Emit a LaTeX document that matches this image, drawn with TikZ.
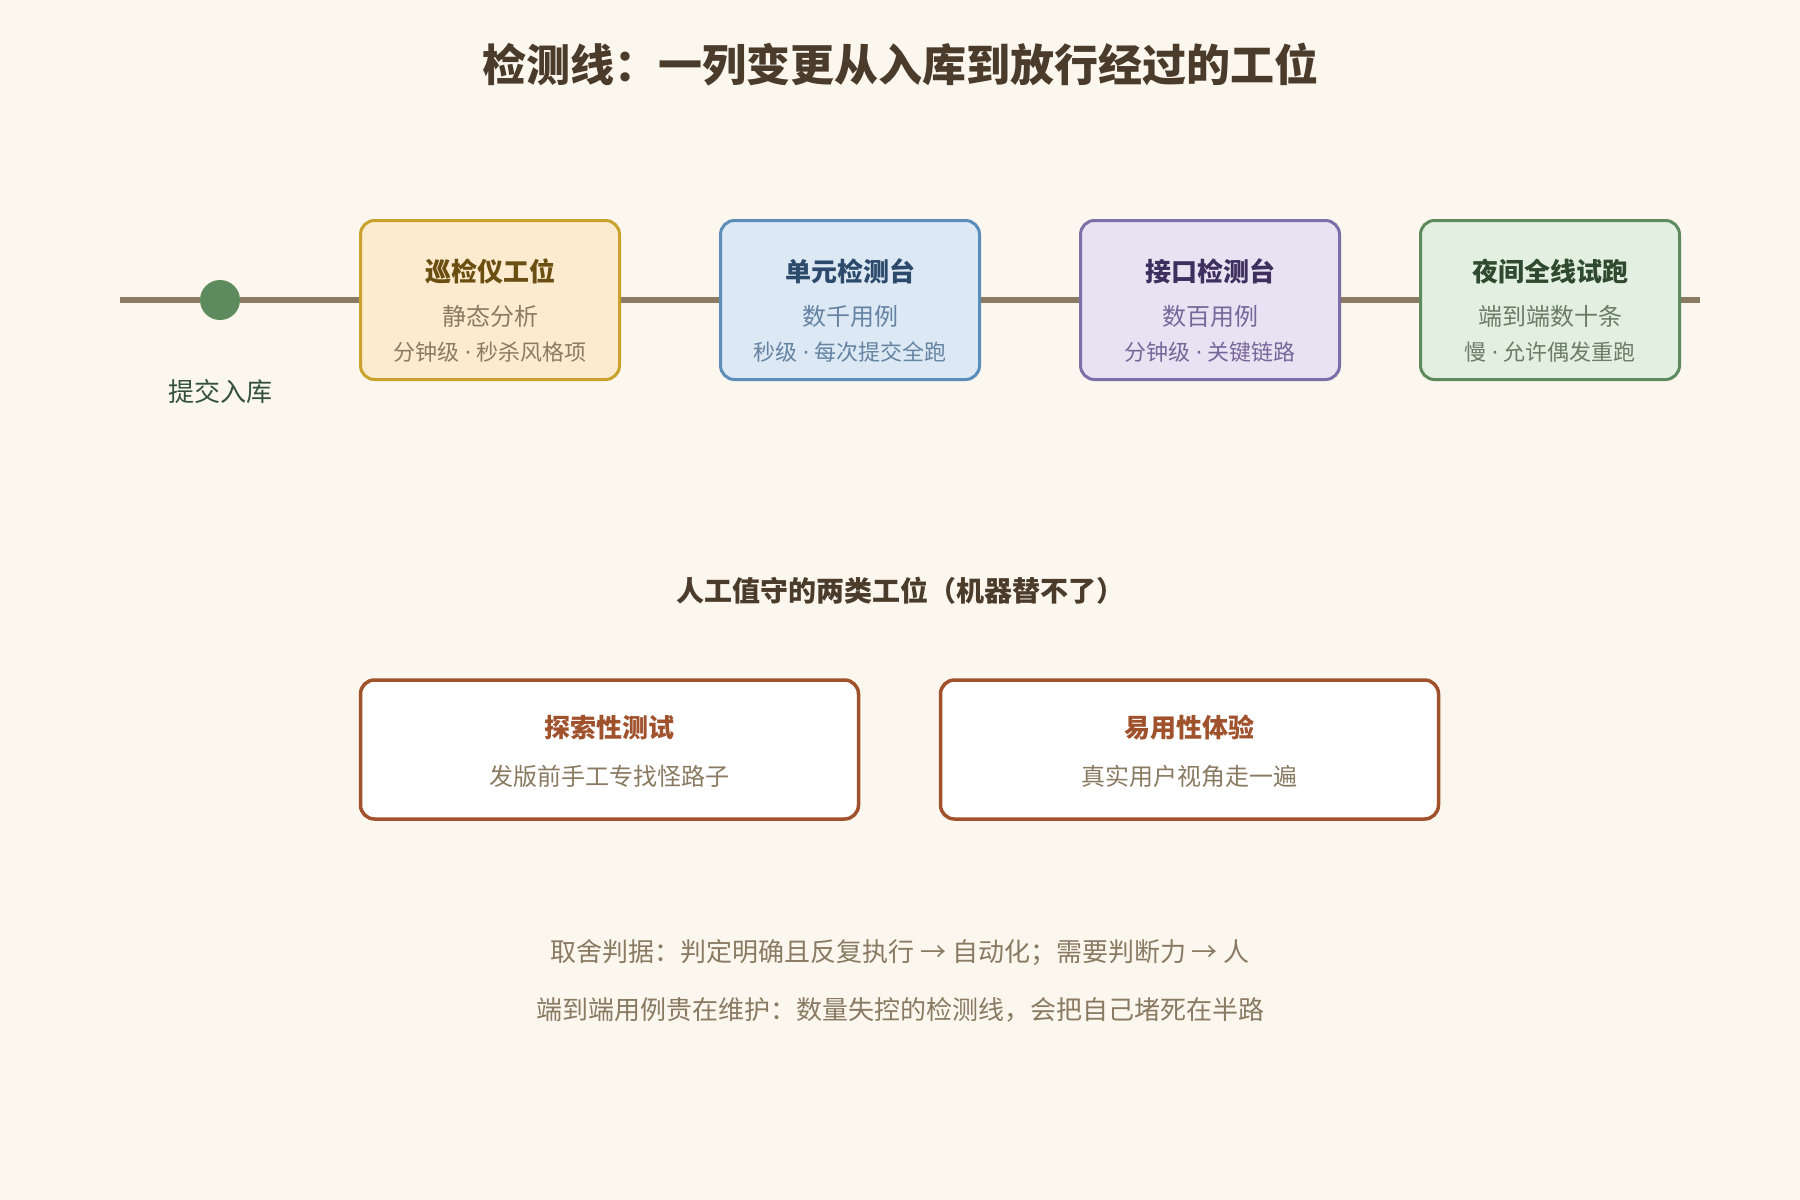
\documentclass[tikz,border=0pt]{standalone}
\usepackage{fontspec}
\setmainfont{Noto Sans CJK SC}
\newfontfamily\latinf{Noto Sans}
\newcommand{\mydot}{{\latinf\ ·\ }}
\definecolor{bgcol}{HTML}{FBF6EE}
\definecolor{trackcol}{HTML}{8B7A62}
\definecolor{dotcol}{HTML}{5E8B5E}
\definecolor{labelcol}{HTML}{33503A}
\definecolor{headcol}{HTML}{4A3B2B}
\definecolor{footcol}{HTML}{8A7A62}
\definecolor{goldD}{HTML}{C9A22B}
\definecolor{goldF}{HTML}{FDEBD0}
\definecolor{goldT}{HTML}{6B4F12}
\definecolor{goldS}{HTML}{8C7B62}
\definecolor{blueD}{HTML}{5B8DB8}
\definecolor{blueF}{HTML}{DCE9F4}
\definecolor{blueT}{HTML}{2C4A6B}
\definecolor{blueS}{HTML}{6483A3}
\definecolor{purpD}{HTML}{7D6FA8}
\definecolor{purpF}{HTML}{E8E3F3}
\definecolor{purpT}{HTML}{3D2F5E}
\definecolor{purpS}{HTML}{76679A}
\definecolor{grnD}{HTML}{5E8B5E}
\definecolor{grnF}{HTML}{E3EFE1}
\definecolor{grnT}{HTML}{2F4A2F}
\definecolor{grnS}{HTML}{6B7D66}
\definecolor{sienna}{HTML}{A0522D}
\pgfdeclarelayer{bglayer}
\pgfdeclarelayer{tracklayer}
\pgfsetlayers{bglayer,tracklayer,main}
\begin{document}
\begin{tikzpicture}[x=1pt,y=-1pt,
  stagebox/.style={draw, line width=3pt, rounded corners=14pt,
    minimum width=259pt, minimum height=159pt, inner sep=0pt},
  manualbox/.style={draw=sienna, fill=white, line width=3.5pt, rounded corners=14pt,
    minimum width=498pt, minimum height=139pt, inner sep=0pt},
  txt/.style={inner sep=0pt, anchor=center},
  stitle/.style={txt, font=\fontsize{26}{30}\selectfont\bfseries},
  ssub/.style={txt, font=\fontsize{24}{28}\selectfont},
  ssmall/.style={txt, font=\fontsize{22}{26}\selectfont},
  foot/.style={txt, text=footcol, font=\fontsize{26}{30}\selectfont},
  track/.style={draw=trackcol, line width=6pt}
]
\useasboundingbox (0,0) rectangle (1800,1200);
\begin{pgfonlayer}{bglayer}
\fill[bgcol] (0,0) rectangle (1800,1200);
\end{pgfonlayer}

% title
\node[txt, text=headcol, font=\fontsize{44}{50}\selectfont\bfseries] (title) at (900,65)
  {检测线：一列变更从入库到放行经过的工位};

% track
\coordinate (start) at (120,300);
\coordinate (finish) at (1700,300);
\node[circle, fill=dotcol, minimum size=40pt, inner sep=0pt] (dot) at (220,300) {};
\node[txt, text=labelcol, font=\fontsize{26}{30}\selectfont] (dotlabel) at (220,392) {提交入库};

\node[stagebox, draw=goldD, fill=goldF] (b1) at (490,300) {};
\node[stagebox, draw=blueD, fill=blueF] (b2) at (850,300) {};
\node[stagebox, draw=purpD, fill=purpF] (b3) at (1210,300) {};
\node[stagebox, draw=grnD, fill=grnF] (b4) at (1550,300) {};

\begin{pgfonlayer}{tracklayer}
\draw[track] (start) -- (dot) -- (b1) -- (b2) -- (b3) -- (b4) -- (finish);
\end{pgfonlayer}

\node[stitle, text=goldT] (b1t) at (490,271) {巡检仪工位};
\node[ssub, text=goldS] (b1s) at (490,316) {静态分析};
\node[ssmall, text=goldS] (b1m) at (490,352.5) {分钟级\mydot 秒杀风格项};

\node[stitle, text=blueT] (b2t) at (850,271) {单元检测台};
\node[ssub, text=blueS] (b2s) at (850,316) {数千用例};
\node[ssmall, text=blueS] (b2m) at (850,352.5) {秒级\mydot 每次提交全跑};

\node[stitle, text=purpT] (b3t) at (1210,271) {接口检测台};
\node[ssub, text=purpS] (b3s) at (1210,316) {数百用例};
\node[ssmall, text=purpS] (b3m) at (1210,352.5) {分钟级\mydot 关键链路};

\node[stitle, text=grnT] (b4t) at (1550,271) {夜间全线试跑};
\node[ssub, text=grnS] (b4s) at (1550,316) {端到端数十条};
\node[ssmall, text=grnS] (b4m) at (1550,352.5) {慢\mydot 允许偶发重跑};

% manual stations
\node[txt, text=headcol, font=\fontsize{28}{32}\selectfont\bfseries] (mhead) at (900,591)
  {人工值守的两类工位（机器替不了）};

\node[manualbox] (m1) at (609.5,749.5) {};
\node[manualbox] (m2) at (1189.5,749.5) {};
\node[stitle, text=sienna] (m1t) at (609.5,727.5) {探索性测试};
\node[ssub, text=footcol] (m1s) at (609.5,776) {发版前手工专找怪路子};
\node[stitle, text=sienna] (m2t) at (1189.5,727.5) {易用性体验};
\node[ssub, text=footcol] (m2s) at (1189.5,776) {真实用户视角走一遍};

% footer
\node[foot] (f1) at (900,952.5)
  {取舍判据：判定明确且反复执行 → 自动化；需要判断力 → 人};
\node[foot] (f2) at (900,1010)
  {端到端用例贵在维护：数量失控的检测线，会把自己堵死在半路};
\end{tikzpicture}
\end{document}
